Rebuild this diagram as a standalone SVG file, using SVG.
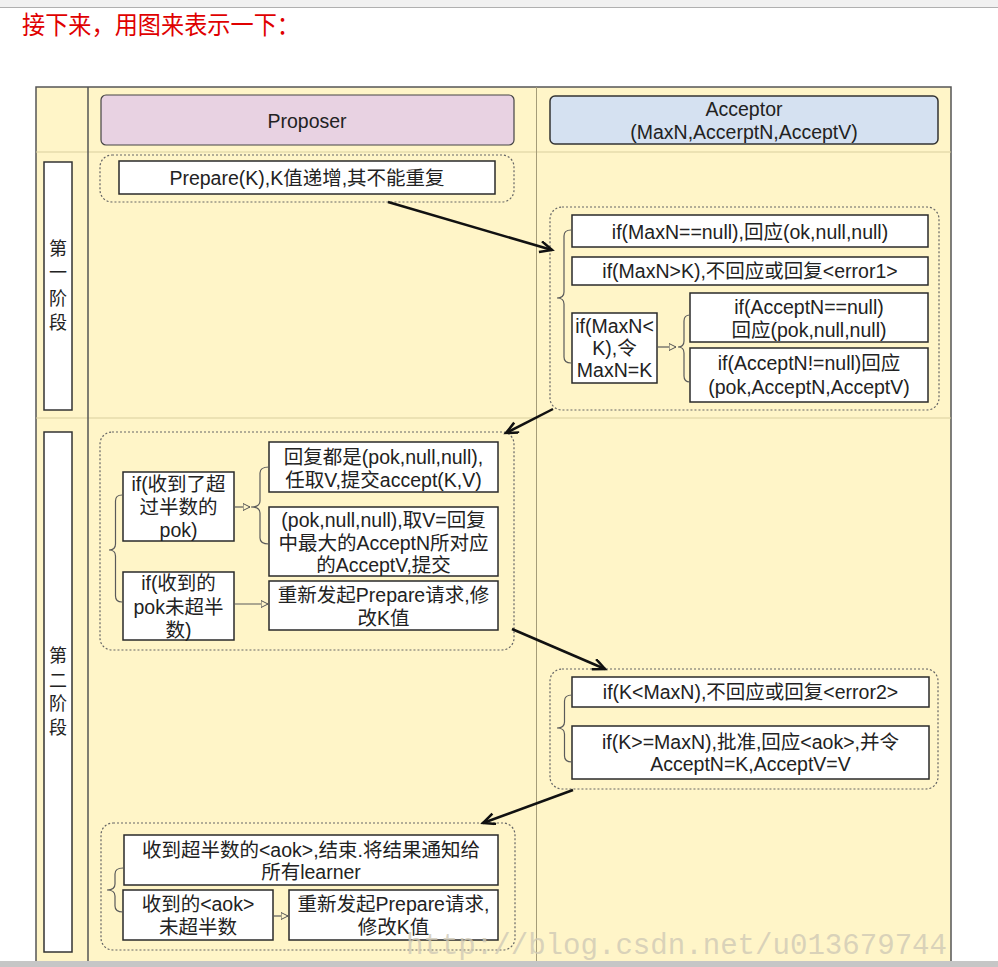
<svg xmlns="http://www.w3.org/2000/svg" width="998" height="967" viewBox="0 0 998 967">
<style>
text{font-family:"Liberation Sans","Noto Sans CJK SC",sans-serif;font-size:19.5px;fill:#222;text-anchor:middle;dominant-baseline:central}
.box{fill:#fff;stroke:#2a2a2a;stroke-width:1.5}
.grp{fill:none;stroke:#666;stroke-width:1.2;stroke-dasharray:2 2}
.brace{fill:none;stroke:#5a5a5a;stroke-width:1.2}
.big{stroke:#111;stroke-width:2.5;fill:none}
.small{stroke:#5a5a5a;stroke-width:1.2;fill:none}
.lane{stroke:#555;stroke-width:1.5}
.sep{stroke:#d9cf9e;stroke-width:1}
.phase{font-size:18px}
.title{font-size:25px;fill:#e00000;text-anchor:start}
</style>
<defs>
<marker id="ah" markerUnits="userSpaceOnUse" markerWidth="16" markerHeight="14" refX="13" refY="6" orient="auto" viewBox="0 0 16 14">
<path d="M1,0.5 L13,6 L1,11.5" fill="none" stroke="#111" stroke-width="2.5"/>
</marker>
<marker id="sh" markerUnits="userSpaceOnUse" markerWidth="9" markerHeight="9" refX="7.5" refY="4" orient="auto" viewBox="0 0 9 9">
<path d="M0.5,0.5 L7.5,4 L0.5,7.5 Z" fill="#fff5c8" stroke="#555" stroke-width="1"/>
</marker>
</defs>
<rect x="0" y="0" width="998" height="967" fill="#fff"/>
<rect x="0" y="0" width="998" height="7" fill="#f1f1f1"/>
<line x1="0" y1="7.5" x2="998" y2="7.5" stroke="#b0b0b0" stroke-width="1"/>
<text class="title" x="22" y="25" textLength="278" lengthAdjust="spacingAndGlyphs">接下来，用图来表示一下：</text>

<g id="lanes">
<rect x="36" y="87" width="915" height="880" fill="#fff5c8" stroke="#555" stroke-width="1.5"/>
<line class="sep" x1="36" y1="152" x2="951" y2="152"/>
<line class="sep" x1="36" y1="418" x2="951" y2="418"/>
<line class="lane" x1="88" y1="87" x2="88" y2="967"/>
<line x1="536.5" y1="87" x2="536.5" y2="967" stroke="#a59c78" stroke-width="1"/>
</g>

<g id="proposer-header">
<rect x="101" y="95" width="413" height="50" rx="5" fill="#e8d2e2" stroke="#444" stroke-width="1.2"/>
<text x="307" y="121">Proposer</text>
</g>
<g id="acceptor-header">
<rect x="550" y="96" width="388" height="48" rx="5" fill="#d5e1f1" stroke="#333" stroke-width="1.5"/>
<text x="744" y="109">Acceptor</text>
<text x="744" y="132">(MaxN,AccerptN,AcceptV)</text>
</g>

<g id="phase1-label">
<rect x="44" y="162" width="28" height="248" fill="#fff" stroke="#333" stroke-width="1.5"/>
<text class="phase" x="58" y="249">第</text>
<text class="phase" x="58" y="273">一</text>
<text class="phase" x="58" y="299">阶</text>
<text class="phase" x="58" y="323">段</text>
</g>
<g id="phase2-label">
<rect x="44" y="432" width="28" height="520" fill="#fff" stroke="#333" stroke-width="1.5"/>
<text class="phase" x="58" y="656">第</text>
<text class="phase" x="58" y="681">二</text>
<text class="phase" x="58" y="704">阶</text>
<text class="phase" x="58" y="728">段</text>
</g>

<g id="p1-proposer">
<rect class="grp" x="100" y="155" width="414" height="47" rx="12"/>
<rect class="box" x="119" y="161" width="376" height="33"/>
<text x="307" y="178">Prepare(K),K值递增,其不能重复</text>
</g>

<g id="p1-acceptor">
<rect class="grp" x="550" y="207" width="389" height="203" rx="12"/>
<rect class="box" x="572" y="215" width="356" height="32"/>
<text x="750" y="232">if(MaxN==null),回应(ok,null,null)</text>
<rect class="box" x="572" y="257" width="356" height="28"/>
<text x="750" y="271">if(MaxN&gt;K),不回应或回复&lt;error1&gt;</text>
<rect class="box" x="572" y="313" width="85" height="70"/>
<text x="614.5" y="326">if(MaxN&lt;</text>
<text x="614.5" y="348">K),令</text>
<text x="614.5" y="370">MaxN=K</text>
<rect class="box" x="690" y="293" width="238" height="49"/>
<text x="809" y="307">if(AcceptN==null)</text>
<text x="809" y="330">回应(pok,null,null)</text>
<rect class="box" x="690" y="348" width="238" height="54"/>
<text x="809" y="363">if(AcceptN!=null)回应</text>
<text x="809" y="387">(pok,AcceptN,AcceptV)</text>
</g>

<g id="p2-proposer">
<rect class="grp" x="100" y="432" width="414" height="218" rx="12"/>
<rect class="box" x="123" y="472" width="111" height="69"/>
<text x="178.5" y="484">if(收到了超</text>
<text x="178.5" y="507">过半数的</text>
<text x="178.5" y="530">pok)</text>
<rect class="box" x="123" y="572" width="111" height="68"/>
<text x="178.5" y="583">if(收到的</text>
<text x="178.5" y="607">pok未超半</text>
<text x="178.5" y="630">数)</text>
<rect class="box" x="269" y="442" width="229" height="50"/>
<text x="383.5" y="457">回复都是(pok,null,null),</text>
<text x="383.5" y="480">任取V,提交accept(K,V)</text>
<rect class="box" x="269" y="507" width="229" height="69"/>
<text x="383.5" y="520">(pok,null,null),取V=回复</text>
<text x="383.5" y="543">中最大的AcceptN所对应</text>
<text x="383.5" y="565">的AcceptV,提交</text>
<rect class="box" x="269" y="581" width="229" height="49"/>
<text x="383.5" y="595">重新发起Prepare请求,修</text>
<text x="383.5" y="618">改K值</text>
</g>

<g id="p2-acceptor">
<rect class="grp" x="550" y="669" width="388" height="120" rx="12"/>
<rect class="box" x="572" y="677" width="357" height="30"/>
<text x="750.5" y="692">if(K&lt;MaxN),不回应或回复&lt;error2&gt;</text>
<rect class="box" x="572" y="726" width="357" height="53"/>
<text x="750.5" y="742">if(K&gt;=MaxN),批准,回应&lt;aok&gt;,并令</text>
<text x="750.5" y="764">AcceptN=K,AcceptV=V</text>
</g>

<g id="p3-proposer">
<rect class="grp" x="101" y="823" width="414" height="127" rx="12"/>
<rect class="box" x="124" y="835" width="374" height="50"/>
<text x="311" y="850">收到超半数的&lt;aok&gt;,结束.将结果通知给</text>
<text x="311" y="872">所有learner</text>
<rect class="box" x="123" y="890" width="150" height="50"/>
<text x="198" y="904">收到的&lt;aok&gt;</text>
<text x="198" y="927">未超半数</text>
<rect class="box" x="289" y="890" width="209" height="50"/>
<text x="393.5" y="904">重新发起Prepare请求,</text>
<text x="393.5" y="927">修改K值</text>
</g>

<g id="connectors">
<path class="brace" d="M571,230 Q564,230 564,236 L564,292 Q564,298 557,298 Q564,298 564,304 L564,357 Q564,363 571,363"/>
<path class="brace" d="M690,315 Q684,315 684,321 L684,341 Q684,347 678,347 Q684,347 684,353 L684,376 Q684,382 690,382"/>
<line class="small" x1="657" y1="347" x2="676" y2="347" marker-end="url(#sh)"/>
<path class="brace" d="M122,495 Q115.5,495 115.5,501 L115.5,544 Q115.5,550 109,550 Q115.5,550 115.5,556 L115.5,596 Q115.5,602 122,602"/>
<path class="brace" d="M269,467 Q260,467 260,473 L260,501 Q260,507 251,507 Q260,507 260,513 L260,538 Q260,544 269,544"/>
<line class="small" x1="234" y1="507" x2="250" y2="507" marker-end="url(#sh)"/>
<line class="small" x1="234" y1="604" x2="268" y2="604" marker-end="url(#sh)"/>
<path class="brace" d="M572,695 Q564.5,695 564.5,701 L564.5,722 Q564.5,728 557,728 Q564.5,728 564.5,734 L564.5,756 Q564.5,762 572,762"/>
<path class="brace" d="M123,868 Q115,868 115,874 L115,884 Q115,890 107,890 Q115,890 115,896 L115,906 Q115,912 123,912"/>
<line class="small" x1="273" y1="916" x2="288" y2="916" marker-end="url(#sh)"/>
<line class="big" x1="388" y1="202" x2="552" y2="250" marker-end="url(#ah)"/>
<line class="big" x1="553" y1="409" x2="506" y2="433" marker-end="url(#ah)"/>
<line class="big" x1="512" y1="629" x2="605" y2="669" marker-end="url(#ah)"/>
<line class="big" x1="573" y1="790" x2="483" y2="823" marker-end="url(#ah)"/>
</g>

<text x="406" y="946" style="font-family:'Liberation Mono',monospace;font-size:30px;fill:#cfc9b6;fill-opacity:0.8;text-anchor:start" textLength="541" lengthAdjust="spacingAndGlyphs">http://blog.csdn.net/u013679744</text>
<rect x="0" y="961" width="998" height="6" fill="#c6c6c6"/>
</svg>
